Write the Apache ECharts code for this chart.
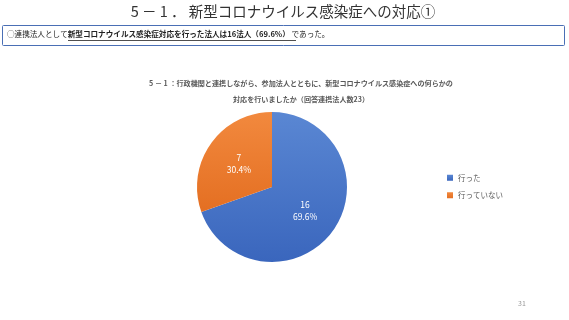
<!DOCTYPE html>
<html><head><meta charset="utf-8">
<script src="https://cdn.jsdelivr.net/npm/echarts@6/dist/echarts.min.js"></script>
<style>html,body{margin:0;padding:0;background:#fff}#c{width:569px;height:320px}</style>
</head><body><div id="c"></div>
<script>
const categories = ['行った', '行っていない'];
const values = [16, 7];
const pageTitle = '5 － 1 ． 新型コロナウイルス感染症への対応①';
const chartTitle = '5 － 1 ：行政機関と連携しながら、参加法人とともに、新型コロナウイルス感染症への何らかの\n対応を行いましたか（回答連携法人数23）';
const summaryPre = '○連携法人として';
const summaryBold = '新型コロナウイルス感染症対応を行った法人は16法人（69.6%） ';
const summaryPost = 'であった。';
const pageNo = '31';

const font = '"Noto Sans CJK JP", sans-serif';
const chart = echarts.init(document.getElementById('c'), null, {renderer: 'canvas'});
const colors = [
  new echarts.graphic.LinearGradient(0, 0, 0, 1, [{offset: 0, color: '#5a87d3'}, {offset: 1, color: '#3a66bd'}]),
  new echarts.graphic.LinearGradient(0, 0, 0, 1, [{offset: 0, color: '#f2893e'}, {offset: 1, color: '#e46f22'}])
];
chart.setOption({
  animation: false,
  textStyle: {fontFamily: font},
  title: {
    text: chartTitle,
    left: 296, top: 70, textAlign: 'center',
    textStyle: {fontSize: 7.1, fontWeight: 'bold', color: '#595959', lineHeight: 16, fontFamily: font}
  },
  legend: {
    orient: 'vertical', left: 442, top: 169, itemWidth: 6, itemHeight: 6, itemGap: 10,
    icon: 'rect',
    textStyle: {fontSize: 7.5, color: '#595959', fontFamily: font},
    data: categories
  },
  graphic: [
    {type: 'text', x: 283, y: 4, style: {text: pageTitle, align: 'center', fontSize: 14.5, fill: '#333', fontFamily: font}},
    {type: 'rect', shape: {x: 2.5, y: 25.5, width: 562, height: 20, r: 1}, style: {fill: '#fff', stroke: '#4a6fb5', lineWidth: 1}},
    {type: 'text', x: 7, y: 30.5, style: {
      rich: {n: {fontSize: 7.6, fill: '#222', fontFamily: font}, b: {fontSize: 7.6, fill: '#222', fontWeight: 'bold', fontFamily: font}},
      text: '{n|' + summaryPre + '}{b|' + summaryBold + '}{n|' + summaryPost + '}'
    }},
    {type: 'line', shape: {x1: 68, y1: 40.5, x2: 296, y2: 40.5}, style: {stroke: '#222', lineWidth: 0.8}},
    {type: 'text', x: 518, y: 300, style: {text: pageNo, fontSize: 7, fill: '#999', fontFamily: font}}
  ],
  series: [{
    type: 'pie',
    center: [272, 187], radius: 75, startAngle: 90, clockwise: true,
    label: {position: 'inside', formatter: p => p.value + '\n' + p.percent.toFixed(1) + '%', color: '#fff', fontSize: 8.5, lineHeight: 12, fontFamily: font},
    labelLine: {show: false},
    itemStyle: {borderWidth: 0},
    emphasis: {disabled: true},
    data: categories.map((n, i) => ({name: n, value: values[i], itemStyle: {color: colors[i]}}))
  }],
  color: ['#4472c4', '#ed7d31']
});
</script></body></html>
